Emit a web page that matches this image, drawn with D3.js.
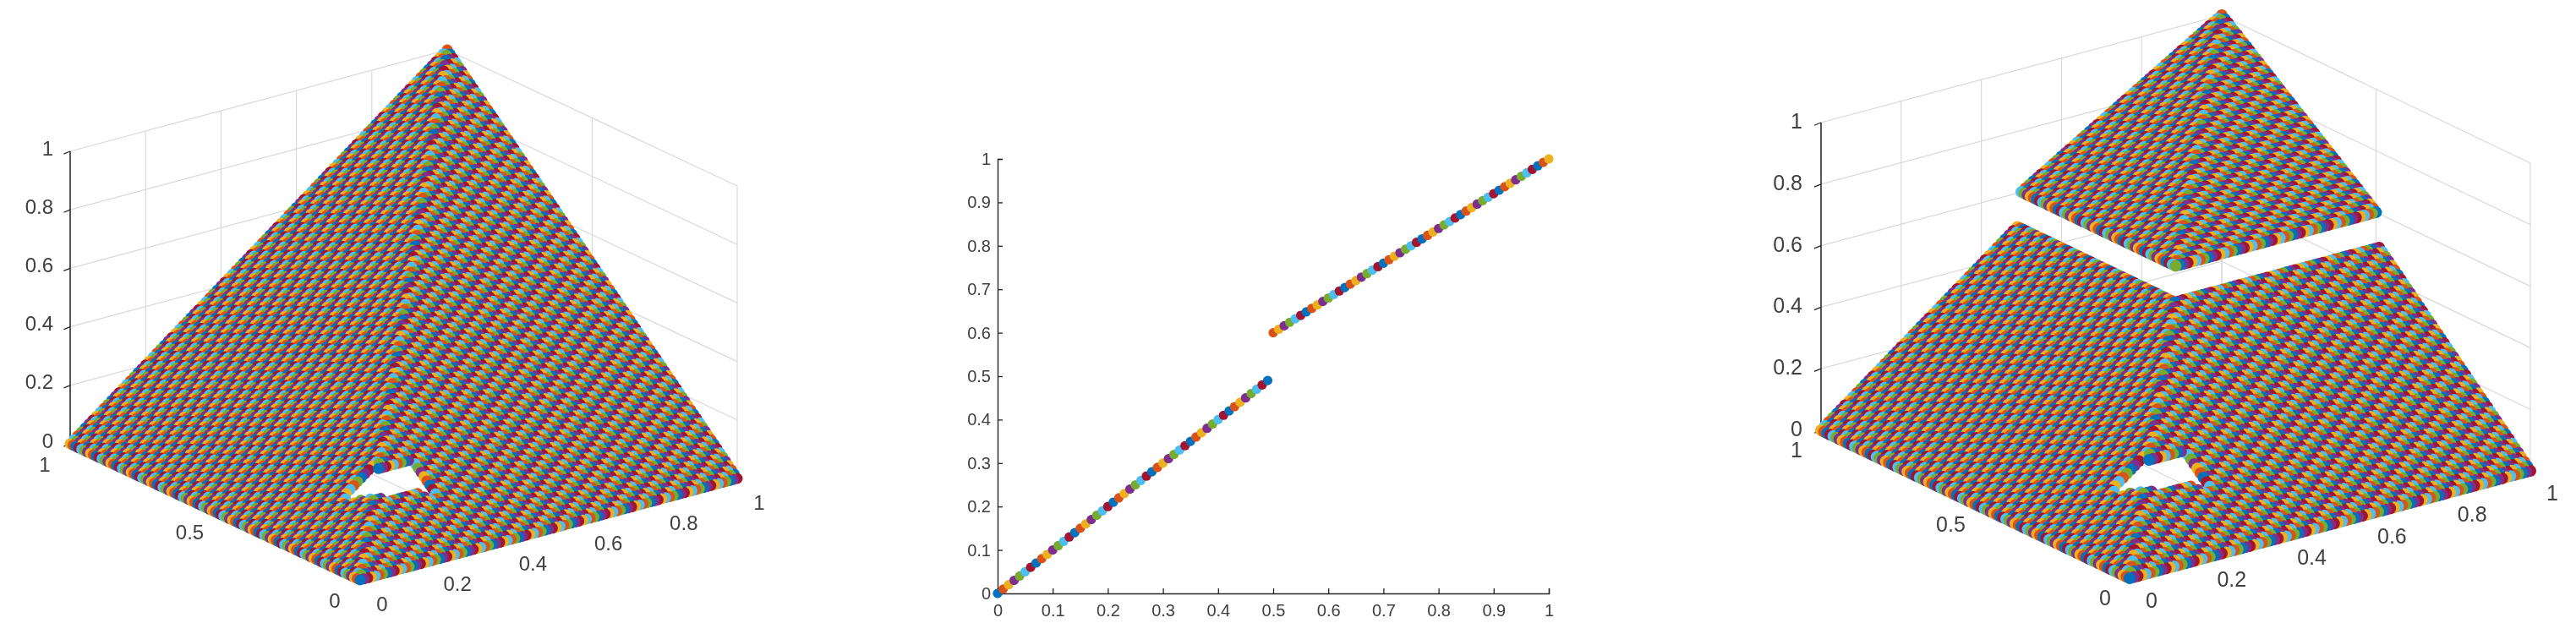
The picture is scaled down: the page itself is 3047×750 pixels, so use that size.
<!DOCTYPE html>
<html><head><meta charset="utf-8">
<script src="https://cdn.jsdelivr.net/npm/d3@7"></script>
<style>html,body{margin:0;padding:0;background:#fff}svg{display:block;filter:blur(0.55px)}text{font-family:"Liberation Sans",Arial,sans-serif;fill:#404040}</style>
</head><body><div id="c"></div>
<script>
const palette=["#0072BD","#D95319","#EDB120","#7E2F8E","#77AC30","#4DBEEE","#A2142F"];
const inputs=[0,0.01,0.02,0.03,0.04,0.05,0.06,0.07,0.08,0.09,0.1,0.11,0.12,0.13,0.14,0.15,0.16,0.17,0.18,0.19,0.2,0.21,0.22,0.23,0.24,0.25,0.26,0.27,0.28,0.29,0.3,0.31,0.32,0.33,0.34,0.35,0.36,0.37,0.38,0.39,0.4,0.41,0.42,0.43,0.44,0.45,0.46,0.47,0.48,0.49,0.5,0.51,0.52,0.53,0.54,0.55,0.56,0.57,0.58,0.59,0.6,0.61,0.62,0.63,0.64,0.65,0.66,0.67,0.68,0.69,0.7,0.71,0.72,0.73,0.74,0.75,0.76,0.77,0.78,0.79,0.8,0.81,0.82,0.83,0.84,0.85,0.86,0.87,0.88,0.89,0.9,0.91,0.92,0.93,0.94,0.95,0.96,0.97,0.98,0.99,1];
const outputsJump=[0,0.01,0.02,0.03,0.04,0.05,0.06,0.07,0.08,0.09,0.1,0.11,0.12,0.13,0.14,0.15,0.16,0.17,0.18,0.19,0.2,0.21,0.22,0.23,0.24,0.25,0.26,0.27,0.28,0.29,0.3,0.31,0.32,0.33,0.34,0.35,0.36,0.37,0.38,0.39,0.4,0.41,0.42,0.43,0.44,0.45,0.46,0.47,0.48,0.49,0.6,0.608,0.616,0.624,0.632,0.64,0.648,0.656,0.664,0.672,0.68,0.688,0.696,0.704,0.712,0.72,0.728,0.736,0.744,0.752,0.76,0.768,0.776,0.784,0.792,0.8,0.808,0.816,0.824,0.832,0.84,0.848,0.856,0.864,0.872,0.88,0.888,0.896,0.904,0.912,0.92,0.928,0.936,0.944,0.952,0.96,0.968,0.976,0.984,0.992,1];
const ticks2D=[0,0.1,0.2,0.3,0.4,0.5,0.6,0.7,0.8,0.9,1];
const xTicks3D=[0,0.2,0.4,0.6,0.8,1];
const yTicks3D=[0,0.5,1];
const zTicks3D=[0,0.2,0.4,0.6,0.8,1];
// gap in the sampled grid near the ridge: [row index, first column, last column]
const gapRows=[[22,14,21],[21,13,20],[20,13,29],[19,14,29],[18,15,29],[17,15,29],[16,16,29],[15,18,29],[14,27,29],[13,28,29]];

const svg=d3.select("#c").append("svg").attr("width",3047).attr("height",750);

function surface(g,p,profile){
  const sx=d3.scaleLinear([0,1],[0,p.X[0]]), sxv=d3.scaleLinear([0,1],[0,p.X[1]]);
  const sy=d3.scaleLinear([0,1],[0,p.Y[0]]), syv=d3.scaleLinear([0,1],[0,p.Y[1]]);
  const sz=d3.scaleLinear([0,1],[0,p.Z]);
  const px=(x,y)=>p.O[0]+sx(x)+sy(y);
  const py=(x,y,z)=>p.O[1]+sxv(x)+syv(y)+sz(z);
  const line=(a,b,c,w)=>g.append("line").attr("x1",px(a[0],a[1])).attr("y1",py(a[0],a[1],a[2])).attr("x2",px(b[0],b[1])).attr("y2",py(b[0],b[1],b[2])).attr("stroke",c).attr("stroke-width",w||1.2);
  const grid="#d9d9d9";
  xTicks3D.forEach(t=>{line([t,1,0],[t,1,1],grid);line([t,0,0],[t,1,0],grid);});
  yTicks3D.forEach(t=>{line([1,t,0],[1,t,1],grid);line([0,t,0],[1,t,0],grid);});
  zTicks3D.forEach(t=>{line([0,1,t],[1,1,t],grid);line([1,1,t],[1,0,t],grid);});
  const dark="#262626";
  line([0,1,0],[0,1,1],dark,1.5);line([0,0,0],[1,0,0],dark,1.5);line([0,0,0],[0,1,0],dark,1.5);
  zTicks3D.forEach(t=>line([0,1,t],[-0.02,1-0.004,t],dark,1.3));
  xTicks3D.forEach(t=>line([t,0,0],[t,-0.015,0],dark,1.3));
  yTicks3D.forEach(t=>line([0,t,0],[-0.012,t,0],dark,1.3));
  const label=(t,x,y,anchor)=>g.append("text").attr("x",x).attr("y",y).attr("text-anchor",anchor).attr("dominant-baseline","central").attr("font-size",p.font).text(t);
  zTicks3D.forEach(t=>label(t,p.O[0]+p.Y[0]+p.zl[0],p.O[1]+p.Y[1]+sz(t)+p.zl[1],"end"));
  xTicks3D.forEach(t=>label(t,px(t,0)+p.xl[0],py(t,0,0)+p.xl[1],"middle"));
  yTicks3D.forEach(t=>label(t,px(0,t)+p.yl[0],py(0,t,0)+p.yl[1],"middle"));
  const gap=new Set();
  gapRows.forEach(([r,a,b])=>{for(let k=a;k<=b;k++)gap.add(k*1000+r);});
  const pts=[];
  inputs.forEach((x,i)=>inputs.forEach((y,j)=>{
    if(gap.has(i*1000+j))return;
    const z=profile[Math.min(i,j)];
    pts.push({x,y,z,c:(i*101+j)%7,d:-326*x-430*y+126*z});
  }));
  pts.sort((a,b)=>a.d-b.d);
  g.append("g").selectAll("circle").data(pts).join("circle")
    .attr("cx",d=>px(d.x,d.y)).attr("cy",d=>py(d.x,d.y,d.z)).attr("r",p.r).attr("fill",d=>palette[d.c]);
}

surface(svg.append("g"),{O:[426,686],X:[446,-120],Y:[-343,-161],Z:-346,r:6.5,font:24,
  zl:[-20,-4],xl:[26,28],yl:[-30,24]},inputs);
surface(svg.append("g"),{O:[2519,684],X:[474,-127],Y:[-365,-175],Z:-364,r:7,font:25,
  zl:[-22,-2],xl:[26,26],yl:[-29,23]},outputsJump);

// middle panel
const mx=d3.scaleLinear([0,1],[1180,1832]), my=d3.scaleLinear([0,1],[702,188]);
const m=svg.append("g");
const ax=d3.axisBottom(mx).tickValues(ticks2D).tickFormat(String).tickSize(-6).tickPadding(13);
const ay=d3.axisLeft(my).tickValues(ticks2D).tickFormat(String).tickSize(-6).tickPadding(8);
m.append("g").attr("transform","translate(0,702)").call(ax);
m.append("g").attr("transform","translate(1180,0)").call(ay);
m.selectAll(".domain").attr("stroke","#262626").attr("stroke-width",1.4);
m.selectAll(".tick line").attr("stroke","#262626").attr("stroke-width",1.3);
m.selectAll(".tick text").attr("font-size",20).attr("font-family","Liberation Sans").attr("fill","#404040");
m.append("g").selectAll("circle").data(inputs.map((x,i)=>({x,y:outputsJump[i],i}))).join("circle")
 .attr("cx",d=>mx(d.x)).attr("cy",d=>my(d.y)).attr("r",5.6).attr("fill",d=>palette[d.i%7]);
</script></body></html>
